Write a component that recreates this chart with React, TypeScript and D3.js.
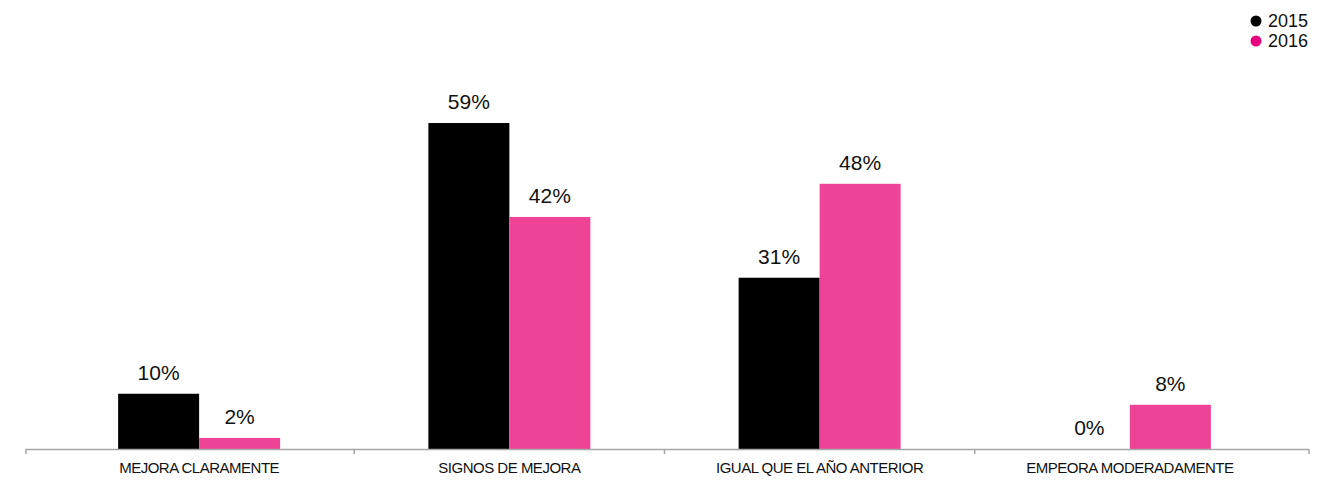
import React, { useEffect, useRef } from 'react';
import * as d3 from 'd3';

const categories = ['MEJORA CLARAMENTE', 'SIGNOS DE MEJORA', 'IGUAL QUE EL AÑO ANTERIOR', 'EMPEORA MODERADAMENTE'];
const seriesNames = ['2015', '2016'];
const values2015 = [10, 59, 31, 0];
const values2016 = [2, 42, 48, 8];

const barColors = ['#000000', '#EF4398'];
const dotColors = ['#000000', '#E6007E'];

const App = () => {
  const ref = useRef<SVGSVGElement>(null);

  useEffect(() => {
    const width = 1328;
    const height = 480;
    const baseY = 449;

    const svg = d3.select(ref.current);
    svg.selectAll('*').remove();

    const x = d3.scaleBand().domain(categories).range([44, 1285]).padding(0);
    const inner = d3.scaleBand().domain(seriesNames).range([0, 162]);
    const y = d3.scaleLinear().domain([0, 60]).range([baseY, baseY - 331.5]);

    const rows = categories.map((c, i) => ({ cat: c, vals: [values2015[i], values2016[i]] }));

    const g = svg.append('g');
    const groups = g.selectAll('.grp')
      .data(rows)
      .enter()
      .append('g')
      .attr('transform', d => `translate(${x(d.cat)! + x.bandwidth() / 2 - 81}, 0)`);

    seriesNames.forEach((s, si) => {
      groups.filter(d => d.vals[si] > 0)
        .append('rect')
        .attr('x', inner(s)!)
        .attr('width', inner.bandwidth())
        .attr('y', d => y(d.vals[si]))
        .attr('height', d => baseY - y(d.vals[si]))
        .attr('fill', barColors[si]);

      groups.append('text')
        .attr('x', inner(s)! + inner.bandwidth() / 2)
        .attr('y', d => y(d.vals[si]) - 14)
        .attr('text-anchor', 'middle')
        .style('font-family', '"Liberation Sans", Arial, sans-serif')
        .style('font-size', '21px')
        .attr('fill', '#111')
        .text(d => `${d.vals[si]}%`);
    });

    // axis
    const axis = svg.append('g');
    axis.append('line')
      .attr('x1', 26).attr('x2', 1309)
      .attr('y1', baseY + 0.5).attr('y2', baseY + 0.5)
      .attr('stroke', '#a6a6a6').attr('stroke-width', 1.5);
    const tickXs = [26, ...categories.slice(1).map(c => x(c)!), 1309];
    axis.selectAll('.tick')
      .data(tickXs)
      .enter()
      .append('line')
      .attr('x1', d => d).attr('x2', d => d)
      .attr('y1', baseY).attr('y2', baseY + 5)
      .attr('stroke', '#a6a6a6').attr('stroke-width', 1.5);

    axis.selectAll('.lbl')
      .data(categories)
      .enter()
      .append('text')
      .attr('x', d => x(d)! + x.bandwidth() / 2)
      .attr('y', 473)
      .attr('text-anchor', 'middle')
      .style('font-family', '"Liberation Sans", Arial, sans-serif')
      .style('font-size', '15px')
      .style('letter-spacing', '-0.5px')
      .attr('fill', '#111')
      .text(d => d);

    // legend
    const legend = svg.append('g');
    seriesNames.forEach((s, i) => {
      legend.append('circle')
        .attr('cx', 1256).attr('cy', 21 + i * 20).attr('r', 5.5)
        .attr('fill', dotColors[i]);
      legend.append('text')
        .attr('x', 1268).attr('y', 27 + i * 20)
        .style('font-family', '"Liberation Sans", Arial, sans-serif')
        .style('font-size', '18px')
        .attr('fill', '#111')
        .text(s);
    });

    svg.attr('width', width).attr('height', height);
  }, []);

  return <svg ref={ref} style={{ position: 'absolute', left: 0, top: 0 }}></svg>;
};

export default App;
